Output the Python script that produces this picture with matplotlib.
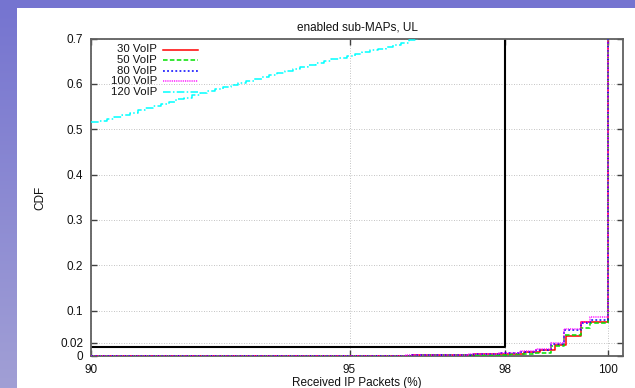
import numpy as np
import matplotlib
matplotlib.use("Agg")
import matplotlib.pyplot as plt
from matplotlib.lines import Line2D

plt.rcParams['font.family'] = ['Liberation Sans', 'DejaVu Sans']

# ---- data ----
title = "enabled sub-MAPs, UL"
xlabel = "Received IP Packets (%)"
ylabel = "CDF"
series_labels = ["30 VoIP", "50 VoIP", "80 VoIP", "100 VoIP", "120 VoIP"]

x30 = [90.0, 95.0, 95.6, 96.2, 96.8, 97.4, 97.8, 98.38, 98.69, 98.98, 99.18, 99.47, 100.0]
y30 = [0.0, 0.0, 0.001, 0.002, 0.003, 0.004, 0.005, 0.009, 0.0126, 0.0236, 0.044, 0.076, 1.0]

x50 = [90.0, 95.2, 95.8, 96.4, 97.0, 97.6, 98.1, 98.55, 98.89, 99.15, 99.47, 99.66, 100.0]
y50 = [0.0, 0.0, 0.001, 0.0015, 0.002, 0.003, 0.004, 0.006, 0.021, 0.047, 0.061, 0.072, 1.0]

x80 = [90.0, 95.0, 95.6, 96.2, 96.8, 97.4, 97.9, 98.3, 98.6, 98.89, 99.15, 99.47, 99.66, 100.0]
y80 = [0.0, 0.0, 0.001, 0.002, 0.003, 0.004, 0.006, 0.009, 0.014, 0.026, 0.057, 0.073, 0.080, 1.0]

x100 = [90.0, 94.9, 95.5, 96.1, 96.7, 97.3, 97.9, 98.3, 98.6, 98.89, 99.15, 99.47, 99.66, 100.0]
y100 = [0.0, 0.0, 0.001, 0.002, 0.003, 0.005, 0.007, 0.010, 0.016, 0.028, 0.059, 0.076, 0.087, 1.0]

x120 = [90.0, 90.15, 90.3, 90.45, 90.6, 90.75, 90.9, 91.05, 91.2, 91.35, 91.5, 91.65, 91.8,
        91.95, 92.1, 92.25, 92.4, 92.55, 92.7, 92.85, 93.0, 93.15, 93.3, 93.45, 93.6,
        93.75, 93.9, 94.05, 94.2, 94.35, 94.5, 94.65, 94.8, 94.95, 95.1, 95.25, 95.4,
        95.55, 95.7, 95.85, 96.0, 96.15, 96.3]
y120 = [0.515, 0.519, 0.523, 0.528, 0.532, 0.537, 0.542, 0.547, 0.551, 0.556, 0.561, 0.566, 0.570,
        0.575, 0.579, 0.584, 0.588, 0.593, 0.597, 0.602, 0.606, 0.610, 0.615, 0.619, 0.624,
        0.628, 0.633, 0.637, 0.642, 0.646, 0.650, 0.654, 0.658, 0.662, 0.666, 0.670, 0.674,
        0.678, 0.682, 0.686, 0.691, 0.696, 0.702]

box_x = [90.0, 98.0, 98.0]
box_y = [0.019, 0.019, 0.75]

xticks = [90, 95, 98, 100]
xticklabels = ["90", "95", "98", "100"]
yticks = [0.0, 0.029, 0.1, 0.2, 0.3, 0.4, 0.5, 0.6, 0.7]
yticklabels = ["0", "0.02", "0.1", "0.2", "0.3", "0.4", "0.5", "0.6", "0.7"]

# ---- styles ----
W, H = 635, 388
colors = ['#ff0000', '#00e000', '#0000ff', '#ff00ff', '#00ffff']
styles = ['-', (0, (3, 1.5)), (0, (1.2, 1.5)), (0, (0.6, 0.6)), (0, (5, 1.5, 1, 1.5))]

fig = plt.figure(figsize=(W / 100, H / 100), dpi=100)
fig.patch.set_facecolor('white')

# purple frame (top band and left gradient band)
bg = fig.add_axes([0, 0, 1, 1], zorder=-10)
bg.axis('off')
grad = np.linspace(0, 1, 256).reshape(-1, 1)
top_c = np.array([117, 116, 208]) / 255
bot_c = np.array([161, 159, 213]) / 255
img = top_c[None, None, :] * (1 - grad[:, :, None]) + bot_c[None, None, :] * grad[:, :, None]
bg.imshow(img, extent=[0, 17, H, 0], aspect='auto', interpolation='bilinear')
bg.add_patch(plt.Rectangle((0, 0), W, 7.5, color=tuple(top_c), lw=0))
bg.set_xlim(0, W)
bg.set_ylim(H, 0)

left, right = 91 / W, 623 / W
top, bottom = 1 - 38.6 / H, 1 - 356 / H
ax = fig.add_axes([left, bottom, right - left, top - bottom])
ax.set_xlim(90, 100.29)
ax.set_ylim(0, 0.7)

ax.set_xticks(xticks)
ax.set_xticklabels(xticklabels)
ax.set_yticks(yticks)
ax.set_yticklabels(yticklabels)
ax.tick_params(direction='in', length=4.5, width=1.0, color='#404040',
               labelsize=8.5, pad=5.5, top=True, right=True, labelcolor='#111111')
for s in ax.spines.values():
    s.set_color('#606060')
    s.set_linewidth(1.3)

ax.grid(True, color='#b0b0b0', linestyle=(0, (1, 2)), linewidth=0.6)
ax.set_axisbelow(True)

xs = [x30, x50, x80, x100, x120]
ys = [y30, y50, y80, y100, y120]
for i in range(5):
    ax.plot(xs[i], ys[i], drawstyle='steps-post', color=colors[i],
            linestyle=styles[i], linewidth=1.1, zorder=3 + i * 0.1)

ax.plot(box_x, box_y, color='black', linewidth=1.5, zorder=2.5)

# texts
cx = (91 + 623) / 2 / W
fig.text(cx, 1 - 28 / H, title, ha='center', va='center', fontsize=8.5, color='#111111')
fig.text(cx, 1 - 383 / H, xlabel, ha='center', va='center', fontsize=8.5, color='#111111')
fig.text(40 / W, 1 - 198 / H, ylabel, ha='center', va='center', rotation=90,
         fontsize=8.5, color='#111111')

# legend (gnuplot style: right aligned text then sample)
for i, lab in enumerate(series_labels):
    yy = 1 - (49.5 + 10.6 * i) / H
    fig.text(157 / W, yy, lab, ha='right', va='center', fontsize=8.2, color='#111111')
    fig.add_artist(Line2D([163 / W, 198 / W], [yy, yy], color=colors[i],
                          linestyle=styles[i], linewidth=1.1, transform=fig.transFigure))

fig.savefig('out.png', dpi=100)
